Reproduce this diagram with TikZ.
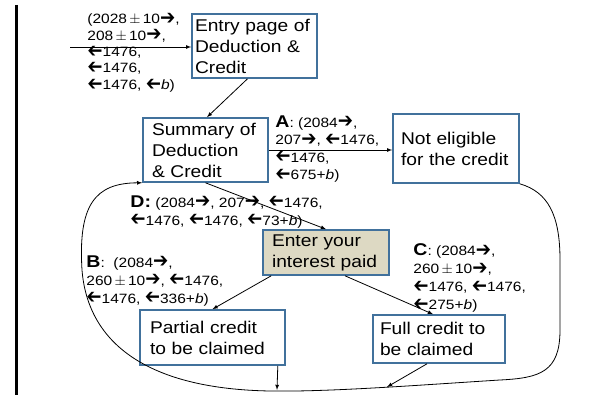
\documentclass[tikz,border=0pt]{standalone}
\usepackage{fontspec}
\usepackage{graphicx}
\setmainfont[FakeStretch=1.13]{Liberation Sans}
\newfontfamily\lblfont[FakeStretch=1.15]{Liberation Sans}
\newfontfamily\arrowfont{DejaVu Sans}
\newcommand{\ra}{\raisebox{-0.8pt}{\scalebox{1.3}[1.45]{\arrowfont\bfseries\fontsize{14}{14}\selectfont\char"2794}}}
\newcommand{\la}{\reflectbox{\ra}}
\newcommand{\pmten}{\,$\pm$\,10}
\newcommand{\casetag}[1]{{\fontsize{17}{17}\selectfont\bfseries #1}}
\definecolor{boxline}{RGB}{65,113,156}
\definecolor{boxfill}{RGB}{221,217,195}

\begin{document}
\begin{tikzpicture}[->, >=latex, x=1pt, y=-1pt, thick]
  \tikzstyle{box}=[draw=boxline, line width=1.6pt, rectangle, align=left, inner xsep=9pt,
                   font=\fontsize{17}{21}\selectfont]
  \tikzstyle{lbl}=[align=left, inner sep=0pt, anchor=north west,
                   font=\lblfont\fontsize{13.5}{18}\selectfont]
  \useasboundingbox (0,0) rectangle (613,395);
  \draw[-, line width=3pt] (16,5) -- (16,395);

  \node[box, text width=119pt, inner xsep=3pt, minimum height=64pt] (E) at (254.5,46) {Entry page of\\Deduction \&\\Credit};
  \node[box, text width=107pt, minimum height=64pt] (S) at (205.5,150) {Summary of\\Deduction\\\& Credit};
  \node[box, text width=110pt, inner xsep=8pt, minimum height=69pt] (N) at (456,148.5) {Not eligible\\for the credit};
  \node[box, fill=boxfill, text width=108pt, minimum height=45pt] (I) at (326,252.5) {Enter your\\interest paid};
  \node[box, text width=125pt, inner xsep=10pt, minimum height=55pt] (P) at (212.5,337.5) {Partial credit\\to be claimed};
  \node[box, text width=118pt, inner xsep=7pt, minimum height=48pt] (F) at (439,339) {Full credit to\\be claimed};

  \node[lbl, font=\lblfont\fontsize{13.5}{16.4}\selectfont] (Lin) at (87,13)
    {(2028\pmten\ra,\\208\pmten\ra,\\\la1476,\\\la1476,\\\la1476, \la\textit{b})};
  \node[lbl, font=\lblfont\fontsize{13.5}{17.5}\selectfont] (LA) at (275,115)
    {\casetag{A}: (2084\ra,\\207\ra, \la1476,\\\la1476,\\\la675+\textit{b})};
  \node[lbl] (LD) at (130,195) {\casetag{D:} (2084\ra, 207\ra, \la1476,\\\la1476, \la1476, \la73+\textit{b})};
  \node[lbl] (LB) at (86,255) {\casetag{B}:\ \ (2084\ra,\\260\pmten\ra, \la1476,\\\la1476, \la336+\textit{b})};
  \node[lbl] (LC) at (413,243) {\casetag{C}: (2084\ra,\\260\pmten\ra,\\\la1476, \la1476,\\\la275+\textit{b})};

  \coordinate (in) at (70,47);
  \coordinate (p1) at (277,390);
  \coordinate (f1) at (387,387);

  \path (in) edge (in -| E.west)
        ([xshift=-7pt]E.south) edge ([xshift=1.5pt]S.north)
        (S.east) edge (S.east -| N.west)
        (S.south) edge (I.north)
        ([xshift=9pt]I.south west) edge (P.north)
        ([xshift=19pt]I.south) edge ([xshift=-6pt]F.north)
        ([xshift=-8pt]P.south east) edge (p1)
        ([xshift=-12pt]F.south) edge (f1);

  % loop back from the end boxes to the summary
  \draw (N.south east) .. controls (548,192) and (560,215) .. (560,260) -- (560,330)
        .. controls (560,372) and (540,378) .. (500,380)
        .. controls (420,385) and (330,392) .. (270,391)
        .. controls (150,389) and (88,345) .. (82,270)
        .. controls (78,205) and (95,183) .. (S.south west);
\end{tikzpicture}
\end{document}
